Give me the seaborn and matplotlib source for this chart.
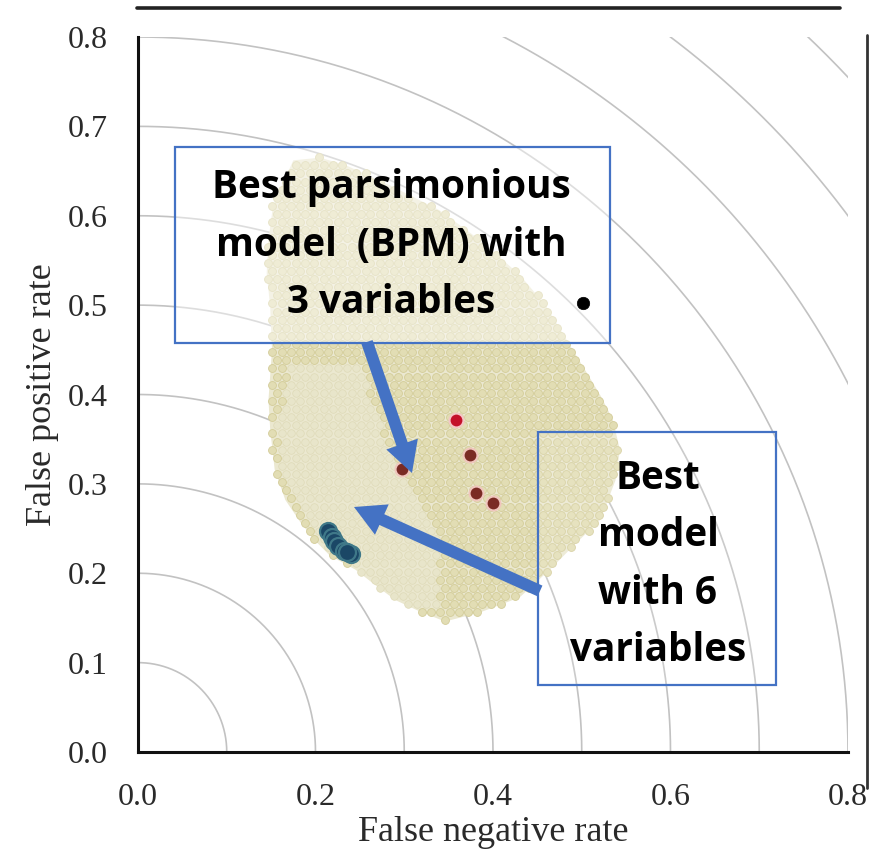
import numpy as np
import pandas as pd
import seaborn as sns
import matplotlib.pyplot as plt
from matplotlib.path import Path
from matplotlib.patches import Rectangle, FancyArrowPatch, ArrowStyle
from matplotlib.lines import Line2D

# ---------------- data ----------------
# outline of the cloud of all candidate models
cloud_fnr = [0.175, 0.205, 0.233, 0.284, 0.340, 0.385, 0.430, 0.459, 0.483, 0.504,
             0.521, 0.535, 0.543, 0.538, 0.521, 0.492, 0.464, 0.430, 0.385, 0.346,
             0.318, 0.290, 0.267, 0.245, 0.216, 0.199, 0.183, 0.166, 0.154, 0.149,
             0.147, 0.151, 0.149, 0.145, 0.147, 0.152, 0.160]
cloud_fpr = [0.662, 0.665, 0.657, 0.634, 0.606, 0.573, 0.534, 0.500, 0.461, 0.427,
             0.399, 0.372, 0.338, 0.304, 0.260, 0.232, 0.204, 0.173, 0.156, 0.146,
             0.157, 0.170, 0.187, 0.204, 0.220, 0.237, 0.257, 0.282, 0.316, 0.360,
             0.394, 0.450, 0.498, 0.536, 0.573, 0.610, 0.629]
# paler zone in the lower left part of the cloud
pale_fnr = [0.170, 0.250, 0.285, 0.340, 0.340, 0.290, 0.250, 0.200, 0.165, 0.155]
pale_fpr = [0.430, 0.430, 0.330, 0.230, 0.160, 0.165, 0.200, 0.240, 0.300, 0.360]

# best models with 6 variables
best6_fnr = [0.214, 0.219, 0.221, 0.225, 0.232, 0.240, 0.236]
best6_fpr = [0.247, 0.241, 0.236, 0.230, 0.225, 0.221, 0.224]
# best parsimonious models
bpm_bright_fnr = [0.358]
bpm_bright_fpr = [0.371]
bpm_fnr = [0.2975, 0.374, 0.381, 0.400]
bpm_fpr = [0.3166, 0.332, 0.290, 0.279]
# reference point
ref_fnr = [0.501]
ref_fpr = [0.502]

radii = [0.1, 0.2, 0.3, 0.4, 0.5, 0.6, 0.7, 0.8, 0.9, 1.0, 1.1]
xticks = [0.0, 0.2, 0.4, 0.6, 0.8]
yticks = [0.0, 0.1, 0.2, 0.3, 0.4, 0.5, 0.6, 0.7, 0.8]
box1_lines = ["Best parsimonious", "model  (BPM) with", "3 variables"]
box2_lines = ["Best", "model", "with 6", "variables"]

# ---------------- figure ----------------
sns.set_theme(style="white")
plt.rcParams['font.family'] = ['Liberation Serif', 'DejaVu Serif']

W, H = 876, 857
fig = plt.figure(figsize=(W / 100, H / 100), dpi=100)
fig.patch.set_facecolor('white')

def fx(px):
    return px / W

def fy(py):
    return 1 - py / H

ax = fig.add_axes([fx(138), fy(752), fx(848) - fx(138), fy(37) - fy(752)])
ax.set_facecolor('white')

# concentric arcs
th = np.linspace(0, np.pi / 2, 400)
arcs = pd.DataFrame({
    'r': np.repeat(radii, len(th)),
    'x': np.concatenate([r * np.cos(th) for r in radii]),
    'y': np.concatenate([r * np.sin(th) for r in radii]),
})
sns.lineplot(data=arcs, x='x', y='y', units='r', estimator=None, sort=False,
             color='#c2c2c2', linewidth=1.2, ax=ax, zorder=1, legend=False)

# cloud: filled outline + lattice of markers inside it
ax.fill(cloud_fnr, cloud_fpr, color='#ebe8d0', zorder=2, lw=0)
d = 0.0105
gx, gy = [], []
for i, yy in enumerate(np.arange(0.12, 0.70, d * np.sqrt(3) / 2)):
    off = (d / 2) if i % 2 else 0.0
    for xx in np.arange(0.12 + off, 0.58, d):
        gx.append(xx)
        gy.append(yy)
gx = np.array(gx)
gy = np.array(gy)
pts = np.column_stack([gx, gy])
cpath = Path(np.column_stack([cloud_fnr, cloud_fpr]))
inside = cpath.contains_points(pts, radius=-0.002)
ppath = Path(np.column_stack([pale_fnr, pale_fpr]))
pale = ppath.contains_points(pts)
pale_core = ppath.contains_points(pts, radius=0.03) & ppath.contains_points(pts, radius=-0.03)
edge_ring = inside & ~cpath.contains_points(pts, radius=-0.02)
dense = inside & ~pale
light = inside & pale & ~edge_ring
pale_edge = inside & pale & edge_ring
sns.scatterplot(x=gx[dense], y=gy[dense], s=32, color='#e2ddb4', edgecolor='#d3cc98',
                linewidth=0.6, ax=ax, zorder=3, legend=False)
sns.scatterplot(x=gx[pale_edge], y=gy[pale_edge], s=32, color='#e5e1bf', edgecolor='#d9d3a8',
                linewidth=0.6, ax=ax, zorder=3, legend=False)
sns.scatterplot(x=gx[light], y=gy[light], s=30, color='#e8e5ca', edgecolor='#dfdab8',
                linewidth=0.5, ax=ax, zorder=3, legend=False)

# special points
sns.scatterplot(x=best6_fnr, y=best6_fpr, s=150, color='#1b4766', edgecolor='#3f7888',
                linewidth=1.6, ax=ax, zorder=5, legend=False)
sns.scatterplot(x=bpm_fnr, y=bpm_fpr, s=100, color='#7a2b24', edgecolor='#f0c6bd',
                linewidth=1.5, ax=ax, zorder=5, legend=False)
sns.scatterplot(x=bpm_bright_fnr, y=bpm_bright_fpr, s=100, color='#c4102a', edgecolor='#f4c6c6',
                linewidth=1.5, ax=ax, zorder=5, legend=False)
sns.scatterplot(x=ref_fnr, y=ref_fpr, s=80, color='black', edgecolor='black',
                linewidth=0.5, ax=ax, zorder=10, legend=False)

ax.set_xlim(0, 0.8)
ax.set_ylim(0, 0.8)
ax.set_xticks(xticks)
ax.set_yticks(yticks)
ax.set_xticklabels([f"{t:.1f}" for t in xticks])
ax.set_yticklabels([f"{t:.1f}" for t in yticks])
ax.tick_params(axis='both', length=0, labelsize=23, colors='#2a2a2a')
ax.tick_params(axis='x', pad=22)
ax.tick_params(axis='y', pad=22)
ax.set_xlabel("False negative rate", fontsize=26, color='#2a2a2a', labelpad=3)
ax.set_ylabel("False positive rate", fontsize=26, color='#2a2a2a', labelpad=6)
for s in ['top', 'right']:
    ax.spines[s].set_visible(False)
for s in ['left', 'bottom']:
    ax.spines[s].set_color('#111111')
    ax.spines[s].set_linewidth(2.2)
ax.grid(False)

# framing lines of the original figure
fig.add_artist(Line2D([fx(137), fx(840)], [fy(8), fy(8)], color='#222222', lw=2.6))
fig.add_artist(Line2D([fx(867), fx(867)], [fy(35), fy(788)], color='#333333', lw=2.0))

# annotation boxes (inside the axes' drawing order, not clipped)
blue = '#4472c4'
ax.add_patch(Rectangle((fx(175), fy(343)), fx(610) - fx(175), fy(147) - fy(343),
                       transform=fig.transFigure, facecolor=(1, 1, 1, 0.45),
                       edgecolor=blue, lw=1.6, zorder=6, clip_on=False))
ax.add_patch(Rectangle((fx(538), fy(685)), fx(776) - fx(538), fy(432) - fy(685),
                       transform=fig.transFigure, facecolor=(1, 1, 1, 0.15),
                       edgecolor=blue, lw=1.6, zorder=6, clip_on=False))
tfont = dict(ha='center', va='baseline', fontsize=27.8, fontweight='bold',
             family=['Open Sans', 'DejaVu Sans'], color='black', zorder=7,
             transform=fig.transFigure, clip_on=False)
for line, base in zip(box1_lines, [198, 256, 313]):
    ax.text(fx(391), fy(base), line, **tfont)
for line, base in zip(box2_lines, [489, 546, 604, 661]):
    ax.text(fx(658), fy(base), line, **tfont)

# arrows
style = ArrowStyle('Simple', head_length=22, head_width=24, tail_width=8.5)
for (a, b) in [((367, 342), (412, 473)), ((540, 591), (354, 507))]:
    ax.add_patch(FancyArrowPatch((fx(a[0]), fy(a[1])), (fx(b[0]), fy(b[1])),
                                 transform=fig.transFigure, arrowstyle=style,
                                 mutation_scale=1, color=blue, lw=0,
                                 shrinkA=0, shrinkB=0, zorder=8, clip_on=False))

fig.savefig('out.png', dpi=100, facecolor='white')
